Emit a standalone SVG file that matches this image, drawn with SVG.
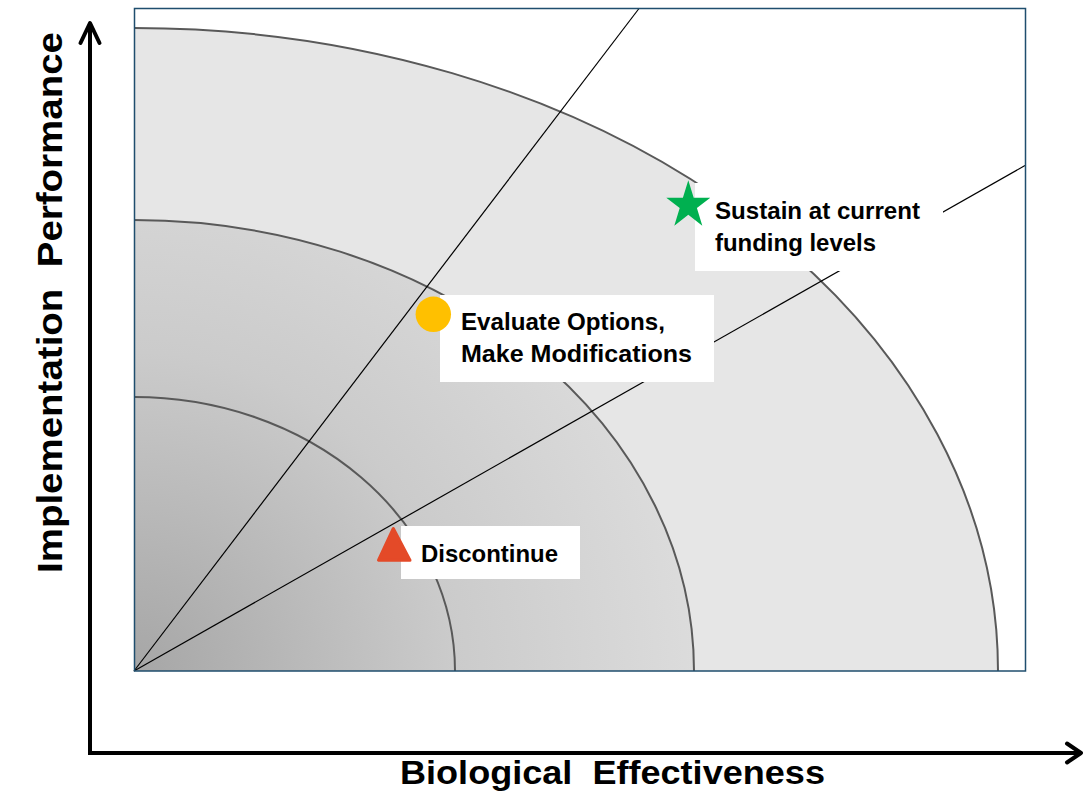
<svg xmlns="http://www.w3.org/2000/svg" width="1083" height="802" viewBox="0 0 1083 802">
  <style>
    .lbl { font-family: "Liberation Sans", Arial, sans-serif; font-weight: bold; fill: #000; }
    .box { fill: #ffffff; stroke: none; }
    .ring { fill: none; stroke: #595959; stroke-width: 2; }
    .ray { stroke: #000; stroke-width: 1.2; fill: none; }
    .axis { stroke: #000; stroke-width: 4; fill: none; }
  </style>
  <defs>
    <radialGradient id="core" gradientUnits="userSpaceOnUse" cx="134" cy="671" r="580">
      <stop offset="0" stop-color="#a6a6a6"/>
      <stop offset="0.55" stop-color="#cbcbcb"/>
      <stop offset="1" stop-color="#dddddd"/>
    </radialGradient>
  </defs>

  <rect width="1083" height="802" fill="#ffffff"/>

  <!-- plot area -->
  <g id="plot">
    <rect x="134.5" y="8.5" width="891" height="662.5" fill="#ffffff"/>
    <!-- zone fills -->
    <path d="M134,671 L134,28 A864,643 0 0 1 998,671 Z" fill="#e6e6e6"/>
    <path d="M134,671 L134,220 A560,451 0 0 1 694,671 Z" fill="url(#core)"/>
    <!-- zone boundaries -->
    <path class="ring" d="M134,28 A864,643 0 0 1 998,671"/>
    <path class="ring" d="M134,220 A560,451 0 0 1 694,671"/>
    <path class="ring" d="M134,397 A321,274 0 0 1 455,671"/>
  </g>

  <!-- rays from the origin -->
  <g id="connectors">
    <line class="ray" x1="134" y1="671" x2="639" y2="8.5"/>
    <line class="ray" x1="134" y1="671" x2="1025" y2="165.5"/>
  </g>

  <rect x="134.5" y="8.5" width="891" height="662.5" fill="none" stroke="#1f4e6e" stroke-width="1.5"/>

  <g id="sustain">
    <rect class="box" x="695" y="183" width="248" height="88"/>
    <polygon fill="#00b050" points="688.3,180.3 693.7,197.7 710.3,197.7 696.9,208.1 702.3,225.7 688.3,214.7 674.3,225.7 679.7,208.1 666.3,197.7 682.9,197.7"/>
    <text class="lbl" x="715" y="219" font-size="24" textLength="205" lengthAdjust="spacingAndGlyphs">Sustain at current</text>
    <text class="lbl" x="715" y="251" font-size="24" textLength="161" lengthAdjust="spacingAndGlyphs">funding levels</text>
  </g>

  <g id="evaluate">
    <rect class="box" x="440" y="295" width="274" height="87"/>
    <circle cx="433.3" cy="314.3" r="17.7" fill="#ffc000"/>
    <text class="lbl" x="461" y="330" font-size="24" textLength="204" lengthAdjust="spacingAndGlyphs">Evaluate Options,</text>
    <text class="lbl" x="461" y="362" font-size="24" textLength="231" lengthAdjust="spacingAndGlyphs">Make Modifications</text>
  </g>

  <g id="discontinue">
    <rect class="box" x="401" y="526" width="179" height="53"/>
    <polygon points="393.3,528.5 378.5,560.2 410,560.2" fill="#e44a28" stroke="#e44a28" stroke-width="3" stroke-linejoin="round"/>
    <text class="lbl" x="421" y="561.5" font-size="24" textLength="137" lengthAdjust="spacingAndGlyphs">Discontinue</text>
  </g>

  <!-- axes -->
  <g id="axes">
    <path class="axis" d="M90,24 L90,753 L1080,753"/>
    <polyline class="axis" points="80.5,43 90,23 99.5,43" stroke-linecap="round" stroke-linejoin="round"/>
    <polyline class="axis" points="1067,743.5 1081,753 1067,762.5" stroke-linecap="round" stroke-linejoin="round"/>
  </g>

  <g id="axis-labels">
    <text class="lbl" x="400" y="784" font-size="33" textLength="425" lengthAdjust="spacingAndGlyphs" style="white-space:pre">Biological  Effectiveness</text>
    <text class="lbl" transform="translate(62,573) rotate(-90)" x="0" y="0" font-size="35" textLength="541" lengthAdjust="spacingAndGlyphs" style="white-space:pre">Implementation  Performance</text>
  </g>
</svg>
